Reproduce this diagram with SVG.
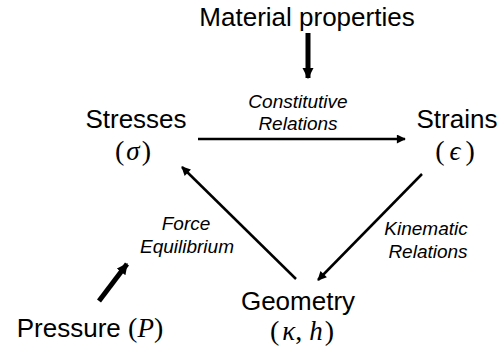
<svg xmlns="http://www.w3.org/2000/svg" width="500" height="353" viewBox="0 0 500 353">
<style>
.lbl{font-family:"Liberation Sans",Arial,sans-serif;font-size:26px;fill:#000;text-anchor:middle}
.it{font-family:"Liberation Sans",Arial,sans-serif;font-size:19px;font-style:italic;fill:#000;text-anchor:middle}
.m{font-family:"Liberation Serif","Times New Roman",serif;font-style:italic;font-size:27px}
.p{font-family:"Liberation Serif","Times New Roman",serif;font-style:normal;font-size:28px}
.c{stroke:#000;stroke-width:2.5;fill:none}
.t{stroke:#000;stroke-width:5;fill:none}
</style>
<defs>
<marker id="ah" viewBox="0 0 10 10" refX="9" refY="5" markerWidth="5" markerHeight="3.6" orient="auto" markerUnits="strokeWidth">
<path d="M0,0 L10,5 L0,10 z" fill="#000"/>
</marker>
<marker id="ahT" viewBox="0 0 10 10" refX="9" refY="5" markerWidth="2.2" markerHeight="2.4" orient="auto" markerUnits="strokeWidth">
<path d="M0,0 L10,5 L0,10 z" fill="#000"/>
</marker>
</defs>
<g id="connectors">
<line class="t" x1="308" y1="33" x2="308" y2="78" marker-end="url(#ahT)"/>
<line class="c" x1="198" y1="139" x2="405" y2="139" marker-end="url(#ah)"/>
<line class="c" x1="422" y1="174" x2="318" y2="280" marker-end="url(#ah)"/>
<line class="c" x1="296" y1="279" x2="182" y2="167" marker-end="url(#ah)"/>
<line class="t" x1="99" y1="301" x2="127" y2="264" marker-end="url(#ahT)"/>
<text class="it" x="298" y="108">Constitutive</text>
<text class="it" x="298" y="130">Relations</text>
<text class="it" x="426" y="235">Kinematic</text>
<text class="it" x="428" y="258">Relations</text>
<text class="it" x="186" y="230">Force</text>
<text class="it" x="187" y="253">Equilibrium</text>
</g>
<g id="material">
<text class="lbl" x="307" y="26">Material properties</text>
</g>
<g id="stresses">
<text class="lbl" x="136" y="128">Stresses</text>
<text class="lbl" x="133" y="160"><tspan class="p">(</tspan><tspan class="m" dx="2">σ</tspan><tspan class="p" dx="2">)</tspan></text>
</g>
<g id="strains">
<text class="lbl" x="455" y="160"><tspan class="p">(</tspan><tspan class="m" dx="5">ϵ</tspan><tspan class="p" dx="5">)</tspan></text>
<text class="lbl" x="457" y="128">Strains</text>
</g>
<g id="geometry">
<text class="lbl" x="298" y="310">Geometry</text>
<text class="lbl" x="302" y="340"><tspan class="p">(</tspan><tspan class="m" dx="3">κ</tspan><tspan class="p">, </tspan><tspan class="m">h</tspan><tspan class="p" dx="2">)</tspan></text>
</g>
<g id="pressure">
<text class="lbl" x="90" y="337">Pressure <tspan class="p">(</tspan><tspan class="m">P</tspan><tspan class="p">)</tspan></text>
</g>
</svg>
